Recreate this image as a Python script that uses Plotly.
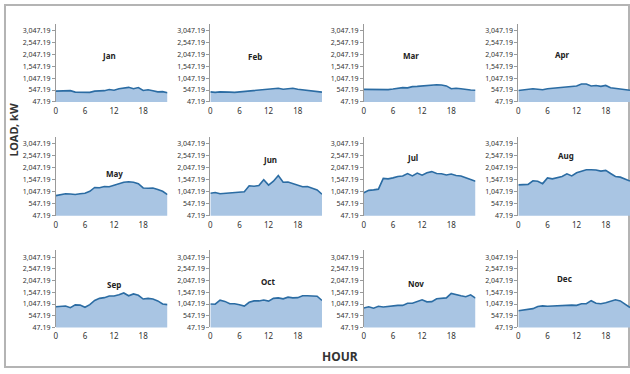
import plotly.graph_objects as go

# Average hourly load (kW) for each month, hours 0..23
hours = list(range(24))
months = ["Jan", "Feb", "Mar", "Apr", "May", "Jun",
          "Jul", "Aug", "Sep", "Oct", "Nov", "Dec"]

jan = [500, 500, 505, 520, 460, 460, 480, 450, 500, 510, 520, 570,
       540, 600, 630, 660, 600, 650, 530, 560, 520, 470, 480, 430]
feb = [470, 450, 470, 450, 460, 450, 470, 460, 480, 510, 520, 540,
       560, 580, 620, 580, 610, 620, 580, 550, 530, 510, 480, 460]
mar = [575, 570, 575, 560, 580, 565, 590, 620, 650, 640, 690, 700,
       720, 760, 780, 770, 760, 720, 600, 620, 600, 560, 550, 540]
apr = [530, 550, 570, 600, 580, 560, 600, 620, 640, 670, 690, 700,
       720, 800, 800, 720, 740, 700, 740, 640, 620, 610, 570, 540]
may = [880, 930, 960, 950, 930, 960, 980, 1060, 1220, 1210, 1260, 1250,
       1310, 1400, 1440, 1460, 1440, 1380, 1200, 1190, 1200, 1140, 1060, 920]
jun = [980, 1010, 960, 980, 990, 1030, 1020, 1040, 1290, 1270, 1300, 1547,
       1320, 1480, 1720, 1440, 1450, 1380, 1290, 1250, 1260, 1200, 1120, 940]
jul = [1000, 1100, 1120, 1150, 1600, 1580, 1620, 1680, 1700, 1800, 1700, 1820,
       1730, 1830, 1880, 1800, 1790, 1740, 1780, 1720, 1700, 1640, 1550, 1480]
aug = [1330, 1330, 1350, 1500, 1480, 1380, 1620, 1580, 1640, 1680, 1790, 1700,
       1830, 1880, 1960, 1960, 1950, 1900, 1930, 1800, 1680, 1650, 1580, 1490]
sep = [930, 960, 960, 890, 1010, 1000, 910, 1020, 1200, 1290, 1320, 1390,
       1390, 1440, 1520, 1400, 1480, 1420, 1260, 1290, 1260, 1180, 1050, 1020]
oct_ = [1050, 1040, 1210, 1160, 1060, 1060, 1020, 960, 1120, 1180, 1180, 1220,
        1170, 1290, 1310, 1270, 1340, 1310, 1320, 1400, 1400, 1390, 1380, 1200]
nov = [880, 930, 870, 950, 920, 950, 970, 990, 990, 1080, 1080, 1150,
       1230, 1140, 1150, 1270, 1290, 1310, 1500, 1440, 1400, 1360, 1440, 1300]
dec = [760, 790, 830, 850, 940, 970, 950, 960, 990, 1000, 990, 1000,
       990, 1060, 1060, 1190, 1080, 1060, 1100, 1180, 1230, 1180, 1040, 900]
series = [jan, feb, mar, apr, may, jun, jul, aug, sep, oct_, nov, dec]

ytick_vals = [47.19, 547.19, 1047.19, 1547.19, 2047.19, 2547.19, 3047.19]
ytick_text = ["47.19", "547.19", "1,047.19", "1,547.19",
              "2,047.19", "2,547.19", "3,047.19"]
xtick_vals = [0, 6, 12, 18]
xtick_text = ["0", "6", "12", "18"]

# ---- layout geometry (pixels) ----
W, H = 630, 374
col_left = [54, 209, 363, 518]
plot_w = 112
row_span = [(24, 103), (138, 218), (253, 331)]
y_range = [47.19, 3340]
# month label placement (hour, load) inside each panel
label_pos = [(10.9, 1960), (9.1, 1960), (9.7, 1990), (9.1, 2040),
             (12.0, 1820), (12.2, 2350), (10.1, 2430), (9.9, 2550),
             (12.0, 1890), (11.8, 2020), (10.7, 1935), (9.5, 2150)]

LINE = "#2b6ca3"
FILL = "#a9c5e3"
AXIS = "#9a9a9a"
FONT = "Noto Sans"

fig = go.Figure()
layout = dict(
    width=W, height=H,
    margin=dict(l=0, r=0, t=0, b=0),
    paper_bgcolor="white", plot_bgcolor="white",
    showlegend=False,
    font=dict(family=FONT, color="#333333"),
)
annotations = []

for i, (name, vals) in enumerate(zip(months, series)):
    r, c = divmod(i, 4)
    n = "" if i == 0 else str(i + 1)
    xa, ya = "x" + n, "y" + n
    fig.add_trace(go.Scatter(
        x=hours, y=vals, xaxis=xa, yaxis=ya,
        mode="lines", line=dict(color=LINE, width=1.6),
        fill="tozeroy", fillcolor=FILL, hoverinfo="skip",
    ))
    left = col_left[c]
    top, bottom = row_span[r]
    layout["xaxis" + n] = dict(
        domain=[left / W, (left + plot_w) / W], anchor=ya,
        range=[0, 23], tickvals=xtick_vals, ticktext=xtick_text,
        showline=False, showgrid=False, zeroline=False, ticks="",
        ticklabelstandoff=3,
        tickfont=dict(size=8, color="#333333", family=FONT),
    )
    layout["yaxis" + n] = dict(
        domain=[1 - bottom / H, 1 - top / H], anchor=xa,
        range=y_range, tickvals=ytick_vals, ticktext=ytick_text,
        showline=True, linecolor=AXIS, linewidth=1,
        ticks="outside", ticklen=3, tickcolor=AXIS,
        showgrid=False, zeroline=False,
        tickfont=dict(size=7, color="#333333", family=FONT),
    )
    lx, ly = label_pos[i]
    annotations.append(dict(
        x=lx, y=ly, xref=xa, yref=ya, text="<b>" + name + "</b>",
        showarrow=False, font=dict(size=8, color="#222222", family=FONT),
    ))

annotations.append(dict(
    x=12 / W, y=1 - 131 / H, xref="paper", yref="paper",
    xanchor="center", yanchor="middle",
    text="<b>LOAD, kW</b>", textangle=-90, showarrow=False,
    font=dict(size=11, color="#333333", family=FONT),
))
annotations.append(dict(
    x=339 / W, y=1 - 360 / H, xref="paper", yref="paper",
    xanchor="center", yanchor="middle",
    text="<b>HOUR</b>", showarrow=False,
    font=dict(size=12, color="#333333", family=FONT),
))
layout["annotations"] = annotations
layout["shapes"] = [dict(
    type="rect", xref="paper", yref="paper",
    x0=3 / W, x1=629 / W, y0=1 - 371 / H, y1=1 - 5 / H,
    line=dict(color="#b4b4b4", width=2), fillcolor="rgba(0,0,0,0)",
    layer="below",
)]

fig.update_layout(**layout)
fig.write_html("out.html")
